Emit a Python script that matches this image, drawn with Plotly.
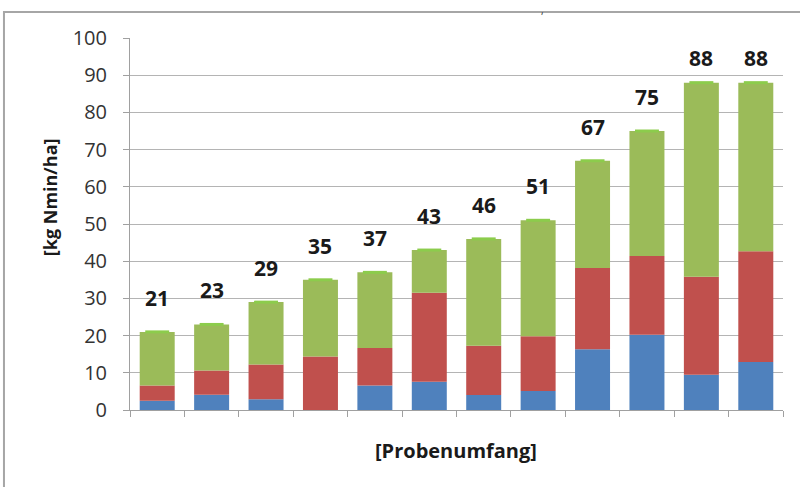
import numpy as np
import plotly.graph_objects as go

# Sample groups (x categories, labels hidden on the axis)
categories = [str(i) for i in range(1, 13)]

# Stacked Nmin components [kg Nmin/ha]
blue_vals = [2.5, 4.1, 2.9, 0.0, 6.6, 7.6, 4.0, 5.1, 16.3, 20.2, 9.5, 12.9]
red_vals = [4.1, 6.5, 9.3, 14.4, 10.1, 23.9, 13.3, 14.7, 21.9, 21.2, 26.3, 29.8]
totals = [21, 23, 29, 35, 37, 43, 46, 51, 67, 75, 88, 88]

blue = np.array(blue_vals)
red = np.array(red_vals)
tot = np.array(totals, dtype=float)
green = tot - blue - red
pos = np.arange(len(categories))

C_BLUE = "#4f81bd"
C_RED = "#c0504d"
C_GREEN = "#9bbb59"
C_CAP = "#8ccc4c"
FONT = "Open Sans"

fig = go.Figure()
fig.add_bar(x=categories, y=blue, base=0, marker_color=C_BLUE,
            marker_line_width=0, name="blue")
fig.add_bar(x=categories, y=red, base=blue, marker_color=C_RED,
            marker_line_width=0, name="red")
fig.add_bar(x=categories, y=green, base=blue + red, marker_color=C_GREEN,
            marker_line_width=0, name="green")
# light top cap centred on each total
cap_h = 0.8
fig.add_bar(x=categories, y=[cap_h] * len(categories), base=tot - cap_h / 2,
            width=0.44, marker_color=C_CAP, marker_line_width=0, name="cap")

# value labels above the stacks (positioned by category index)
for p, t in zip(pos, totals):
    fig.add_annotation(x=int(p), y=t, text=str(t), showarrow=False,
                       xanchor="center", yanchor="middle",
                       yshift=25 if t >= 85 else 34,
                       font=dict(family=FONT, size=21, color="#1a1a1a",
                                 weight="bold"))

# axis titles
fig.add_annotation(x=-0.1225, y=0.572, xref="paper", yref="paper",
                   xanchor="center", yanchor="middle",
                   text="[kg Nmin/ha]", textangle=-90, showarrow=False,
                   font=dict(family=FONT, size=18, color="#1a1a1a", weight="bold"))
fig.add_annotation(x=0.499, y=-0.108, xref="paper", yref="paper",
                   xanchor="center", yanchor="middle",
                   text="[Probenumfang]", showarrow=False,
                   font=dict(family=FONT, size=20, color="#1a1a1a", weight="bold"))
fig.add_annotation(x=0.632, y=1.10, xref="paper", yref="paper", text=",",
                   showarrow=False, xanchor="center", yanchor="top",
                   font=dict(family=FONT, size=10, color="#333333"))

# outer chart frame
fig.add_shape(type="rect", xref="paper", yref="paper",
              x0=-0.193, x1=1.05, y0=-0.3, y1=1.07,
              line=dict(color="#a6a6a6", width=2), fillcolor="rgba(0,0,0,0)",
              layer="below")

fig.update_layout(
    width=800, height=487,
    margin=dict(l=130, r=17, t=38, b=77),
    paper_bgcolor="white", plot_bgcolor="white",
    barmode="overlay", bargap=0.357,
    showlegend=False,
    font=dict(family=FONT),
)
fig.update_xaxes(
    type="category", range=[-0.5, 11.5], showticklabels=False,
    showline=True, linecolor="#a0a0a0", linewidth=1,
    ticks="outside", tickson="boundaries", ticklen=6, tickcolor="#a0a0a0",
    showgrid=False,
)
fig.update_yaxes(
    range=[0, 100], dtick=10, showline=True, linecolor="#a0a0a0", linewidth=1,
    ticks="outside", ticklen=6, tickcolor="#a0a0a0",
    gridcolor="#b4b4b4", gridwidth=1, zeroline=False,
    tickfont=dict(family=FONT, size=20, color="#333333"),
    ticklabelstandoff=12,
)

fig.write_html("out.html")
